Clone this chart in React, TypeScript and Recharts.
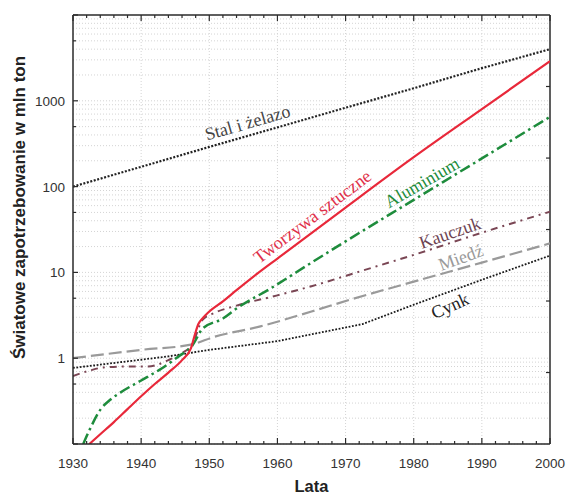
import {
  LineChart,
  Line,
  XAxis,
  YAxis,
  CartesianGrid,
  ReferenceDot,
  ReferenceLine,
  Label,
} from "recharts";

// series (year, mln ton)
const steelYears = [1930, 1940, 1950, 1960, 1970, 1980, 1990, 2000];
const steelValues = [100, 170, 290, 490, 830, 1400, 2400, 4000];

const plasticsYears = [
  1932.4, 1934, 1936, 1938, 1940, 1942, 1944, 1946, 1947.3, 1947.9, 1948.4,
  1949, 1950, 1952, 1954, 1957, 1960, 1970, 1980, 1990, 2000,
];
const plasticsValues = [
  0.1, 0.13, 0.18, 0.255, 0.36, 0.5, 0.68, 0.95, 1.3, 1.9, 2.5, 2.9, 3.5,
  4.6, 6.2, 9.6, 14.5, 57, 220, 800, 2900,
];

const aluminiumYears = [
  1931.5, 1932.5, 1934, 1935.5, 1937, 1940, 1943, 1945.5, 1947.5, 1949, 1952,
  1954, 1959, 1965, 1970, 1980, 1990, 2000,
];
const aluminiumValues = [
  0.1, 0.15, 0.25, 0.33, 0.4, 0.55, 0.76, 1.05, 1.4, 2.2, 2.9, 3.8, 6.5, 13,
  23, 70, 213, 650,
];

const rubberYears = [
  1930, 1932.5, 1934.5, 1938, 1941, 1944, 1946, 1947.5, 1949, 1950.5, 1954,
  1960, 1965, 1972.5, 1980, 1990, 2000,
];
const rubberValues = [
  0.62, 0.72, 0.78, 0.8, 0.8, 0.95, 1.15, 1.45, 2.8, 3.3, 4.1, 5.4, 6.9, 10.5,
  16, 29, 51,
];

const copperYears = [1930, 1940, 1947.5, 1950.5, 1957.5, 1965, 1971, 1980, 1990, 2000];
const copperValues = [1.0, 1.25, 1.45, 1.75, 2.35, 3.5, 4.9, 7.8, 13, 21.8];

const zincYears = [1930, 1944, 1950, 1960, 1972.5, 1980, 1990, 2000];
const zincValues = [0.77, 1.05, 1.25, 1.58, 2.5, 4.2, 8.2, 15.7];

// axes
const yearTicks = Array.from({ length: 36 }, (_, i) => 1930 + i * 2);
const decadeLines = [1940, 1950, 1960, 1970, 1980, 1990];
const leftTicks = [0.1, 0.5, 1, 5, 10, 50, 100, 500, 1000, 5000, 10000];
const labelledValues = [1, 10, 100, 1000];
// right edge has its own evenly spaced marks
const rightTicks = [0.681, 4.64, 31.6, 215, 1468];
const gridValues = [0.1, 1, 10, 100, 1000].flatMap((d) =>
  [1, 2, 3, 4, 5, 6, 7, 8, 9].map((m) => +(m * d).toPrecision(3))
);

const W = 567;
const H = 494;
const MARGIN = { top: 15, right: 17, bottom: 0, left: 13 };
const PLOT_TOP = MARGIN.top;
const PLOT_RIGHT = W - MARGIN.right;

const FRAME = "#2a2a2a";
const TICK_TEXT = "#333";
const SANS = "'Liberation Sans', Arial, sans-serif";
const SERIF = "'Liberation Serif', 'Times New Roman', serif";

const toPoints = (years: number[], values: number[]) =>
  years.map((year, i) => ({ year, value: values[i] }));

const lineLabels = [
  { text: "Stal i żelazo", year: 1955.6, value: 560, angle: -16, color: "#454545" },
  { text: "Tworzywa sztuczne", year: 1965.1, value: 45, angle: -37, color: "#e0304a" },
  { text: "Aluminium", year: 1981.2, value: 112, angle: -30, color: "#1e8c3c" },
  { text: "Kauczuk", year: 1985.3, value: 29, angle: -19, color: "#6e4452" },
  { text: "Miedź", year: 1986.9, value: 15, angle: -20, color: "#9a9a9a" },
  { text: "Cynk", year: 1985.3, value: 4.1, angle: -24, color: "#222" },
];

// bottom tick also mirrors itself on the top edge
const XTick = (props: any) => {
  const { x, y, payload } = props;
  const major = payload.value % 10 === 0;
  const len = major ? 6 : 3;
  return (
    <g>
      <line x1={x} y1={y} x2={x} y2={y - len} stroke={FRAME} strokeWidth={1.2} />
      <line x1={x} y1={PLOT_TOP} x2={x} y2={PLOT_TOP + len} stroke={FRAME} strokeWidth={1.2} />
      {major && (
        <text
          x={x}
          y={y + 24}
          textAnchor="middle"
          fontFamily={SANS}
          fontSize={13.5}
          fill={TICK_TEXT}
        >
          {payload.value}
        </text>
      )}
    </g>
  );
};

const YTick = (props: any) => {
  const { x, y, payload } = props;
  const v = payload.value;
  if (rightTicks.includes(v)) {
    return (
      <line x1={PLOT_RIGHT} y1={y} x2={PLOT_RIGHT - 4} y2={y} stroke={FRAME} strokeWidth={1.2} />
    );
  }
  const labelled = labelledValues.includes(v);
  const major = labelled || v === 0.1 || v === 10000;
  return (
    <g>
      <line x1={x} y1={y} x2={x + (major ? 5 : 3)} y2={y} stroke={FRAME} strokeWidth={1.2} />
      {labelled && (
        <text
          x={x - 8}
          y={y + 5}
          textAnchor="end"
          fontFamily={SANS}
          fontSize={13.5}
          fill={TICK_TEXT}
        >
          {v}
        </text>
      )}
    </g>
  );
};

const renderLineLabel = (l: (typeof lineLabels)[number]) => (p: any) => {
  const vb = p.viewBox;
  const cx = vb.x + vb.width / 2;
  const cy = vb.y + vb.height / 2;
  return (
    <text
      x={cx}
      y={cy}
      dy="0.35em"
      textAnchor="middle"
      fontFamily={SERIF}
      fontSize={18}
      fill={l.color}
      transform={`rotate(${l.angle} ${cx} ${cy})`}
    >
      {l.text}
    </text>
  );
};

export default function App() {
  return (
    <div style={{ position: "absolute", left: 0, top: 0, background: "#fff" }}>
      <LineChart width={W} height={H} margin={MARGIN}>
        <CartesianGrid
          horizontalValues={gridValues}
          verticalValues={decadeLines}
          stroke="#d4d4d4"
          strokeDasharray="1 2"
        />
        <XAxis
          type="number"
          dataKey="year"
          domain={[1930, 2000]}
          allowDataOverflow
          ticks={yearTicks}
          interval={0}
          tick={<XTick />}
          tickLine={false}
          tickSize={0}
          tickMargin={0}
          height={50}
          axisLine={{ stroke: FRAME, strokeWidth: 1.5 }}
        >
          <Label
            content={(p: any) => (
              <text
                x={p.viewBox.x + p.viewBox.width / 2}
                y={p.viewBox.y + 48}
                textAnchor="middle"
                fontFamily={SANS}
                fontWeight="bold"
                fontSize={16.5}
                fill="#222"
              >
                Lata
              </text>
            )}
          />
        </XAxis>
        <YAxis
          type="number"
          scale="log"
          domain={[0.1, 10000]}
          allowDataOverflow
          ticks={[...leftTicks, ...rightTicks].sort((a, b) => a - b)}
          interval={0}
          tick={<YTick />}
          tickLine={false}
          tickSize={0}
          tickMargin={0}
          width={60}
          axisLine={{ stroke: FRAME, strokeWidth: 1.5 }}
        >
          <Label
            content={(p: any) => {
              const cx = p.viewBox.x + 6;
              const cy = p.viewBox.y + p.viewBox.height / 2 - 22;
              return (
                <text
                  x={cx}
                  y={cy}
                  dy="0.35em"
                  textAnchor="middle"
                  fontFamily={SANS}
                  fontWeight="bold"
                  fontSize={17}
                  fill="#222"
                  transform={`rotate(-90 ${cx} ${cy})`}
                >
                  Światowe zapotrzebowanie w mln ton
                </text>
              );
            }}
          />
        </YAxis>

        {/* top and right frame */}
        <ReferenceLine y={10000} stroke={FRAME} strokeWidth={1.5} />
        <ReferenceLine x={2000} stroke={FRAME} strokeWidth={1.5} />

        <Line
          data={toPoints(copperYears, copperValues)}
          dataKey="value"
          type="monotone"
          stroke="#9a9a9a"
          strokeWidth={2.2}
          strokeDasharray="13 5"
          dot={false}
          isAnimationActive={false}
        />
        <Line
          data={toPoints(zincYears, zincValues)}
          dataKey="value"
          type="linear"
          stroke="#1a1a1a"
          strokeWidth={1.8}
          strokeDasharray="1.8 1.6"
          dot={false}
          isAnimationActive={false}
        />
        <Line
          data={toPoints(rubberYears, rubberValues)}
          dataKey="value"
          type="monotone"
          stroke="#7a4654"
          strokeWidth={2}
          strokeDasharray="7 5 2 5"
          dot={false}
          isAnimationActive={false}
        />
        <Line
          data={toPoints(steelYears, steelValues)}
          dataKey="value"
          type="linear"
          stroke="#222"
          strokeWidth={2.2}
          strokeDasharray="2 1.6"
          dot={false}
          isAnimationActive={false}
        />
        <Line
          data={toPoints(aluminiumYears, aluminiumValues)}
          dataKey="value"
          type="monotone"
          stroke="#1e8c3c"
          strokeWidth={2.5}
          strokeDasharray="11 4 2.5 4"
          dot={false}
          isAnimationActive={false}
        />
        <Line
          data={toPoints(plasticsYears, plasticsValues)}
          dataKey="value"
          type="monotone"
          stroke="#e8283a"
          strokeWidth={2.2}
          dot={false}
          isAnimationActive={false}
        />

        {lineLabels.map((l) => (
          <ReferenceDot
            key={l.text}
            x={l.year}
            y={l.value}
            r={1}
            fill="none"
            stroke="none"
            label={{ content: renderLineLabel(l) }}
          />
        ))}
      </LineChart>
    </div>
  );
}
